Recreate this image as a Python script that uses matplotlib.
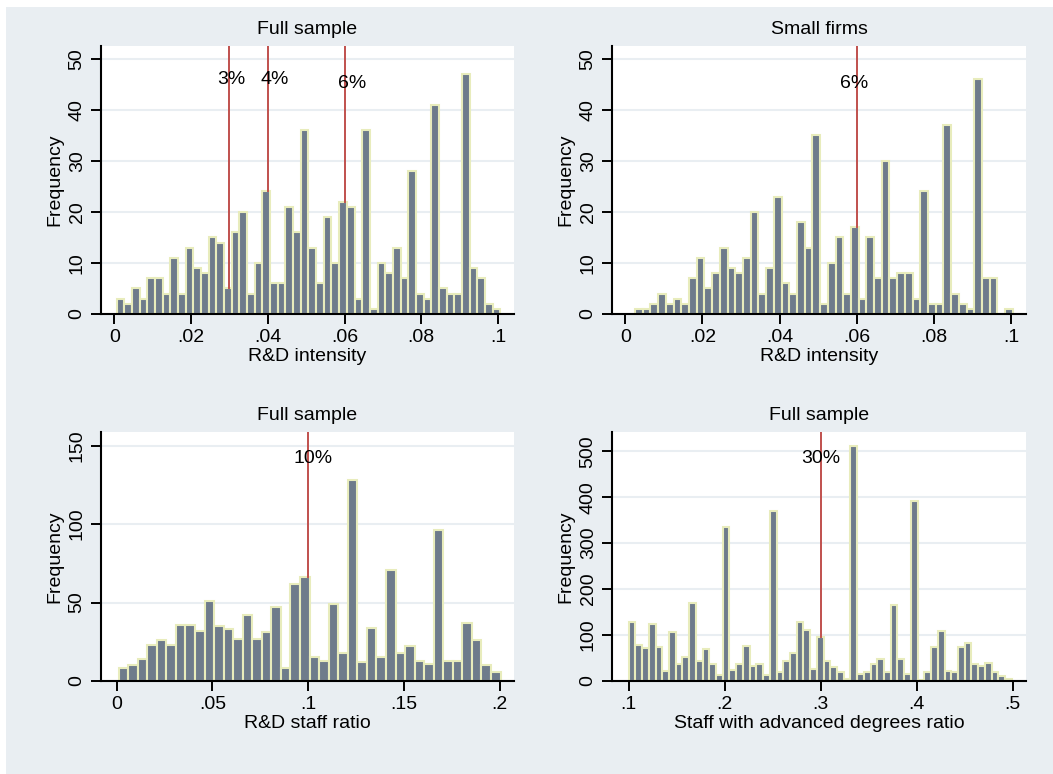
import numpy as np
import matplotlib.pyplot as plt
from matplotlib.patches import Rectangle

plt.rcParams['font.family'] = ['Liberation Sans', 'DejaVu Sans']

# --- data (bin counts) ---
# R&D intensity, full sample: 50 bins of 0.002 starting at 0.0006
rd_full_start, rd_full_width = 0.0006, 0.002
rd_full_counts = [3, 2, 5, 3, 7, 7, 4, 11, 4, 13, 9, 8, 15, 14, 5, 16, 20, 4, 10, 24,
                  6, 6, 21, 16, 36, 13, 6, 19, 10, 22, 21, 3, 36, 1, 10, 8, 13, 7, 28, 4,
                  3, 41, 5, 4, 4, 47, 9, 7, 2, 1]

# R&D intensity, small firms: 49 bins of 0.002 starting at 0.0025
rd_small_start, rd_small_width = 0.0025, 0.002
rd_small_counts = [1, 1, 2, 4, 2, 3, 2, 7, 11, 5, 8, 13, 9, 8, 11, 20, 4, 9, 23, 6,
                   4, 18, 13, 35, 2, 10, 15, 4, 17, 3, 15, 7, 30, 7, 8, 8, 3, 24, 2, 2,
                   37, 4, 2, 1, 46, 7, 7, 0, 1]

# R&D staff ratio: 40 bins starting at 0.001
staff_start, staff_width = 0.001, 0.0049875
staff_counts = [8, 10, 14, 23, 26, 23, 36, 36, 32, 51, 35, 33, 27, 42, 27, 31, 47, 8, 62, 66,
                15, 13, 49, 18, 128, 12, 34, 15, 71, 18, 22, 13, 11, 96, 13, 13, 37, 26, 10, 6]

# Staff with advanced degrees ratio: 57 bins of 0.007 starting at 0.1
adv_start, adv_width = 0.1, 0.007
adv_counts = [128, 79, 71, 125, 73, 22, 107, 37, 52, 169, 43, 70, 38, 12, 336, 23, 36, 77, 32, 37,
              12, 369, 19, 43, 61, 128, 111, 27, 95, 43, 30, 20, 4, 512, 15, 20, 36, 47, 20, 166,
              47, 15, 392, 2, 19, 73, 109, 22, 19, 73, 82, 36, 32, 40, 19, 11, 4]

titles = ["Full sample", "Small firms", "Full sample", "Full sample"]
xlabels = ["R&D intensity", "R&D intensity", "R&D staff ratio", "Staff with advanced degrees ratio"]

xticks_rd = [0, 0.02, 0.04, 0.06, 0.08, 0.1]
xticklabels_rd = ["0", ".02", ".04", ".06", ".08", ".1"]
xticks_staff = [0, 0.05, 0.1, 0.15, 0.2]
xticklabels_staff = ["0", ".05", ".1", ".15", ".2"]
xticks_adv = [0.1, 0.2, 0.3, 0.4, 0.5]
xticklabels_adv = [".1", ".2", ".3", ".4", ".5"]

# reference lines: (x position, label, label x, label y)
marks_rd_full = [(0.03, "3%", 0.0304, 45.9), (0.04, "4%", 0.0419, 45.9), (0.06, "6%", 0.0620, 45.2)]
marks_rd_small = [(0.06, "6%", 0.0594, 45.2)]
marks_staff = [(0.10, "10%", 0.1026, 142)]
marks_adv = [(0.30, "30%", 0.2998, 485)]

panels = [
    dict(start=rd_full_start, width=rd_full_width, counts=rd_full_counts,
         xticks=xticks_rd, xtl=xticklabels_rd, yticks=[0, 10, 20, 30, 40, 50],
         xlim=(-0.00347, 0.10417), ylim=(0, 52.5), marks=marks_rd_full,
         rect=[101 / 1053, 1 - 314 / 774, 413 / 1053, 268 / 774]),
    dict(start=rd_small_start, width=rd_small_width, counts=rd_small_counts,
         xticks=xticks_rd, xtl=xticklabels_rd, yticks=[0, 10, 20, 30, 40, 50],
         xlim=(-0.00346, 0.1039), ylim=(0, 52.5), marks=marks_rd_small,
         rect=[612 / 1053, 1 - 314 / 774, 414 / 1053, 268 / 774]),
    dict(start=staff_start, width=staff_width, counts=staff_counts,
         xticks=xticks_staff, xtl=xticklabels_staff, yticks=[0, 50, 100, 150],
         xlim=(-0.00816, 0.2075), ylim=(0, 158.7), marks=marks_staff,
         rect=[101 / 1053, 1 - 681 / 774, 413 / 1053, 249 / 774]),
    dict(start=adv_start, width=adv_width, counts=adv_counts,
         xticks=xticks_adv, xtl=xticklabels_adv, yticks=[0, 100, 200, 300, 400, 500],
         xlim=(0.0826, 0.5139), ylim=(0, 542), marks=marks_adv,
         rect=[612 / 1053, 1 - 681 / 774, 414 / 1053, 249 / 774]),
]

bg = "#E9EEF2"
bar_fill = "#6E7B8B"
bar_edge = "#E8ECBC"
line_red = "#C0504D"
fs = 14

fig = plt.figure(figsize=(10.53, 7.74), dpi=100)
fig.patch.set_facecolor("white")
fig.patches.append(Rectangle((6 / 1053, 0), 1, 767 / 774, transform=fig.transFigure,
                             facecolor=bg, edgecolor="none", zorder=-10))

for p, title, xlab in zip(panels, titles, xlabels):
    ax = fig.add_axes(p["rect"])
    ax.set_facecolor("white")
    counts = np.array(p["counts"])
    edges = p["start"] + p["width"] * np.arange(len(counts) + 1)
    ax.bar(edges[:-1], counts, width=p["width"], align="edge", color=bar_fill,
           edgecolor=bar_edge, linewidth=1.5, zorder=2)

    for xm, lab, tx, ty in p["marks"]:
        i = np.searchsorted(edges, xm) - 1
        ax.plot([xm, xm], [counts[i], p["ylim"][1]], color=line_red, lw=1.4, zorder=3)
        ax.text(tx, ty, lab, ha="center", va="center", fontsize=fs, zorder=4)

    ax.set_xlim(p["xlim"])
    ax.set_ylim(p["ylim"])
    ax.set_xticks(p["xticks"])
    ax.set_xticklabels(p["xtl"])
    ax.set_yticks(p["yticks"])
    ax.set_yticklabels([str(v) for v in p["yticks"]], rotation=90, va="center")
    ax.yaxis.grid(True, color=bg, lw=1.5, zorder=0)
    ax.set_axisbelow(True)
    ax.tick_params(axis="both", direction="out", length=7, width=1.4, labelsize=fs, pad=4)
    for s in ["top", "right"]:
        ax.spines[s].set_visible(False)
    for s in ["left", "bottom"]:
        ax.spines[s].set_linewidth(1.5)
    ax.set_title(title, fontsize=fs, pad=9)
    ax.set_xlabel(xlab, fontsize=fs, labelpad=1)
    ax.set_ylabel("Frequency", fontsize=fs, labelpad=4)

fig.savefig("out.png", dpi=100, facecolor=fig.get_facecolor())
